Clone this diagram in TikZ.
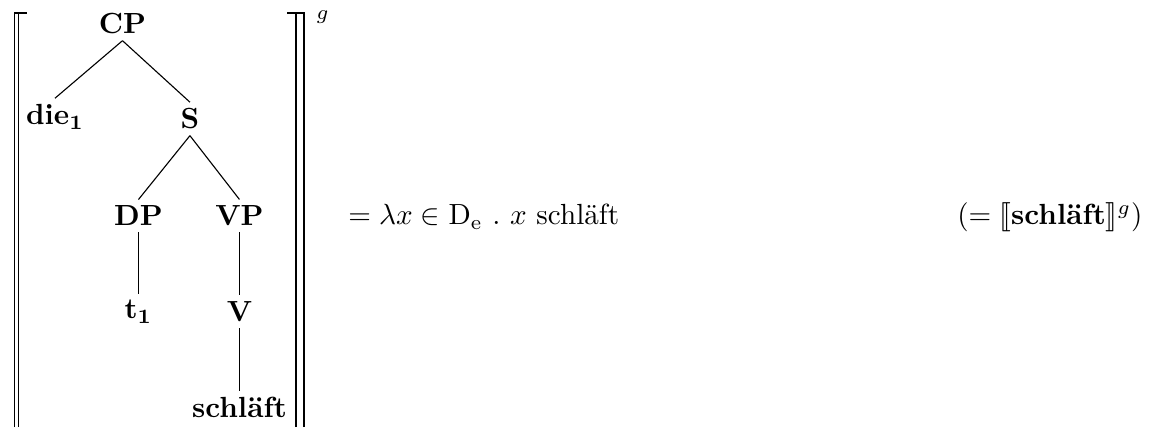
\documentclass[tikz,border=0pt]{standalone}
\usepackage{amsmath}
\usepackage{amssymb}
\usepackage{stmaryrd}
\usetikzlibrary{positioning,calc}

\begin{document}
\begin{tikzpicture}[
    every node/.style={scale=1.045},
    cat/.style={inner sep=2pt, font=\bfseries},
    txt/.style={inner sep=0pt, anchor=base west},
    branch/.style={draw=black, line width=0.4pt},
    brk/.style={draw=black, line width=0.6pt}
]
    \useasboundingbox (0,0) rectangle (14.52,5.382);

    % Tree
    \node[cat] (cp) at (1.544,5.080) {CP};
    \node[cat] (die) at (0.693,3.908) {die$_{\mathbf{1}}$};
    \node[cat] (s) at (2.394,3.883) {S};
    \node[cat] (dp) at (1.745,2.660) {DP};
    \node[cat] (vp) at (3.018,2.660) {VP};
    \node[cat] (t) at (1.745,1.451) {t$_{\mathbf{1}}$};
    \node[cat] (v) at (3.018,1.451) {V};
    \node[cat] (verb) at (3.018,0.241) {schläft};

    % Branches
    \draw[branch] (cp.south) -- (die.north);
    \draw[branch] (cp.south) -- (s.north);
    \draw[branch] (s.south) -- (dp.north);
    \draw[branch] (s.south) -- (vp.north);
    \draw[branch] (dp.south) -- (t.north);
    \draw[branch] (vp.south) -- (v.north);
    \draw[branch] (v.south) -- (verb.north);

    % Denotation brackets
    \coordinate (lt) at (0.183,5.218);
    \coordinate (rt) at (3.830,5.218);
    \draw[brk] (0.183,0) -- (lt) -- (0.340,5.218);
    \draw[brk] (0.233,0) -- (0.233,5.218);
    \draw[brk] (rt |- 0,0) -- (rt) -- (3.616,5.218);
    \draw[brk] (3.730,0) -- (3.730,5.218);
    \node[txt] (g) at (3.98,5.13) {$\scriptstyle g$};

    % Result
    \node[txt] (eq) at (4.385,2.547) {$= \lambda x \in \mathrm{D}_{\mathrm{e}}\ .\ x$ schläft};
    \node[txt] (note) at (12.06,2.547) {$(= \llbracket$\textbf{schläft}$\rrbracket^{g})$};
\end{tikzpicture}
\end{document}
